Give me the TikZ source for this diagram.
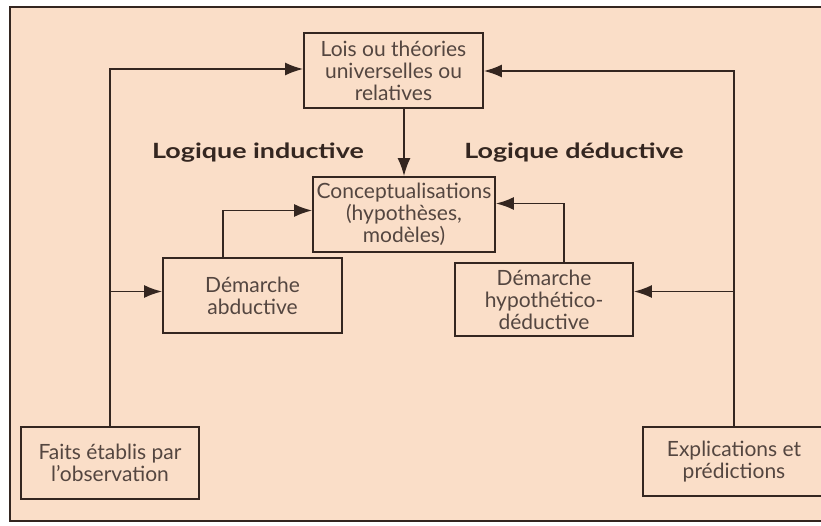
\documentclass[tikz,border=0pt]{standalone}
\usepackage{fontspec}
\setmainfont{Lato}
\newfontfamily\logicfont{Lato}[FakeStretch=1.28]
\usetikzlibrary{arrows.meta}
\usetikzlibrary{positioning}
\definecolor{peach}{RGB}{250,222,200}
\definecolor{linecol}{RGB}{52,38,32}
\definecolor{txtcol}{RGB}{84,70,64}

\begin{document}
\begin{tikzpicture}[->,>={Latex[length=18pt,width=13pt]},x=1pt,y=-1pt,
                    line width=1.8pt,draw=linecol,
                    main node/.style={rectangle,draw=linecol,line width=1.8pt,text=txtcol,
                      align=center,inner sep=0pt,font=\fontsize{21}{22}\selectfont},
                    logic/.style={text=linecol,font=\logicfont\fontsize{21}{24}\selectfont\bfseries}]

  \useasboundingbox (0,0) rectangle (821,525);
  \clip (0,0) rectangle (821,525);
  \path[-,fill=peach,draw=linecol,line width=2.6pt] (10,7) rectangle (840,521);

  \node[main node,minimum width=179pt,minimum height=75pt] (1) at (393.5,70.5)
    {Lois ou théories\\universelles ou\\relatives};
  \node[main node,minimum width=182pt,minimum height=75pt] (2) at (404,214.5)
    {Conceptualisations\\(hypothèses,\\modèles)};
  \node[main node,minimum width=179pt,minimum height=75pt] (3) at (252.5,295.5)
    {Démarche\\abductive};
  \node[main node,minimum width=178pt,minimum height=73pt] (4) at (544,299.5)
    {Démarche\\hypothético-\\déductive};
  \node[main node,minimum width=178pt,minimum height=72pt] (5) at (110,463)
    {Faits établis par\\l'observation};
  \node[main node,minimum width=182pt,minimum height=69pt] (6) at (734,461.5)
    {Explications et\\prédictions};

  \node[logic] (7) at (258,153) {Logique inductive};
  \node[logic] (8) at (574,153) {Logique déductive};

  \draw (5.north) |- ([yshift=1.5pt]1.west);
  \draw ([yshift=4pt]3.west -| 5.north) -- ([yshift=4pt]3.west);
  \draw (6.north) |- ([yshift=-0.5pt]1.east);
  \draw ([yshift=8pt]4.east -| 6.north) -- ([yshift=8pt]4.east);
  \draw (2.north |- 1.south) -- (2.north);
  \draw ([xshift=-29.5pt]3.north) |- ([yshift=4pt]2.west);
  \draw ([xshift=20pt]4.north) |- ([yshift=11pt]2.east);
\end{tikzpicture}
\end{document}
